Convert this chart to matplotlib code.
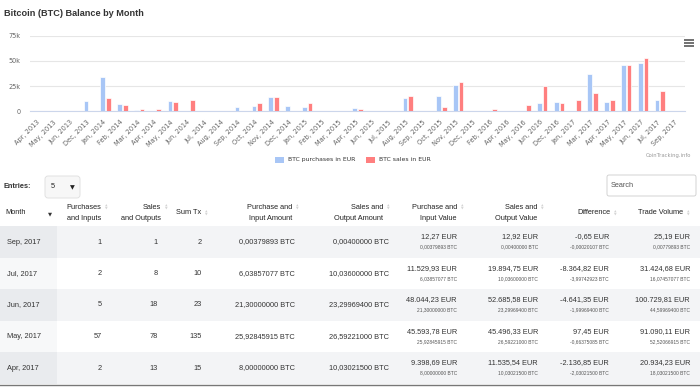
import numpy as np
import matplotlib.pyplot as plt
from matplotlib.patches import Rectangle, FancyBboxPatch

plt.rcParams['font.family'] = ['Liberation Sans', 'DejaVu Sans']

# ---------------------------- chart data (EUR) ----------------------------
months = ['Apr, 2013', 'May, 2013', 'Jun, 2013', 'Dec, 2013', 'Jan, 2014', 'Feb, 2014',
          'Mar, 2014', 'Apr, 2014', 'May, 2014', 'Jun, 2014', 'Jul, 2014', 'Aug, 2014',
          'Sep, 2014', 'Oct, 2014', 'Nov, 2014', 'Dec, 2014', 'Jan, 2015', 'Feb, 2015',
          'Mar, 2015', 'Apr, 2015', 'Jun, 2015', 'Jul, 2015', 'Aug, 2015', 'Sep, 2015',
          'Oct, 2015', 'Nov, 2015', 'Dec, 2015', 'Feb, 2016', 'Apr, 2016', 'May, 2016',
          'Jun, 2016', 'Dec, 2016', 'Jan, 2017', 'Mar, 2017', 'Apr, 2017', 'May, 2017',
          'Jun, 2017', 'Jul, 2017', 'Sep, 2017']
purchases_eur = [60, 40, 50, 10500, 34500, 6900, 900, 0, 10500, 0, 0, 0,
                 4600, 4900, 13900, 4900, 3900, 0, 0, 3200, 0, 0, 13200, 0,
                 14900, 26500, 600, 0, 0, 0, 8500, 9500, 0, 37400, 9398.69, 45593.78,
                 48044.23, 11529.93, 12.27]
sales_eur = [0, 0, 0, 0, 13200, 6200, 2600, 2600, 8900, 11200, 0, 0,
             0, 7900, 13900, 0, 7900, 0, 0, 1900, 0, 0, 14900, 0,
             3900, 29500, 0, 1900, 0, 5900, 25200, 7900, 11500, 17900, 11535.54, 45496.33,
             52685.58, 19894.75, 12.92]
yticks = [0, 25000, 50000, 75000]
ytick_labels = ['0', '25k', '50k', '75k']

# ---------------------------- table data ----------------------------
tbl_month = ['Sep, 2017', 'Jul, 2017', 'Jun, 2017', 'May, 2017', 'Apr, 2017']
tbl_n_buy = [1, 2, 5, 57, 2]
tbl_n_sell = [1, 8, 18, 78, 13]
tbl_n_tx = [2, 10, 23, 135, 15]
tbl_amt_buy = [0.00379893, 6.03857077, 21.30000000, 25.92845915, 8.00000000]
tbl_amt_sell = [0.00400000, 10.03600000, 23.29969400, 26.59221000, 10.03021500]
tbl_val_buy = [12.27, 11529.93, 48044.23, 45593.78, 9398.69]
tbl_val_sell = [12.92, 19894.75, 52685.58, 45496.33, 11535.54]
tbl_diff = [-0.65, -8364.82, -4641.35, 97.45, -2136.85]
tbl_diff_btc = [-0.00020107, -3.99742923, -1.99969400, -0.66375085, -2.03021500]
tbl_vol = [25.19, 31424.68, 100729.81, 91090.11, 20934.23]
tbl_vol_btc = [0.00779893, 16.07457077, 44.59969400, 52.52066915, 18.03021500]


def eur(v):
    s = f"{v:,.2f}"
    return s.replace(',', 'X').replace('.', ',').replace('X', '.') + ' EUR'


def btc(v):
    return f"{v:.8f}".replace('.', ',') + ' BTC'


W, H = 700, 387
BLUE = '#a8c6f6'
RED = '#ff7f7f'
fig = plt.figure(figsize=(W / 100, H / 100), dpi=100)

# pixel-space layer for page elements
lay = fig.add_axes([0, 0, 1, 1])
lay.set_xlim(0, W)
lay.set_ylim(H, 0)
lay.axis('off')

# ---------------------------- bar chart ----------------------------
y0, y1 = 111.3, 35.7
ax = fig.add_axes([30 / W, 1 - y0 / H, 655 / W, (y0 - y1) / H])
ax.patch.set_alpha(0)
x = np.arange(len(months))
ax.bar(x - 0.17, purchases_eur, width=0.28, color=BLUE, edgecolor='white', linewidth=0.5, zorder=3)
ax.bar(x + 0.17, sales_eur, width=0.28, color=RED, edgecolor='white', linewidth=0.5, zorder=3)
ax.set_xlim(-0.5, len(months) - 0.5)
ax.set_ylim(0, 75000)
ax.set_yticks(yticks)
ax.set_yticklabels(ytick_labels, fontsize=4.7, color='#666666', family='DejaVu Sans')
ax.set_xticks(x)
ax.set_xticklabels(months, rotation=45, ha='right', va='center', rotation_mode='anchor',
                   fontsize=4.8, color='#666666', family='DejaVu Sans')
ax.tick_params(axis='x', length=0, pad=7)
ax.tick_params(axis='y', length=0, pad=7)
ax.grid(axis='y', color='#e6e6e6', linewidth=0.8, zorder=0)
for s in ['top', 'right', 'left']:
    ax.spines[s].set_visible(False)
ax.spines['bottom'].set_color('#ccd6eb')
ax.spines['bottom'].set_linewidth(0.8)

# title, menu, legend, credits
lay.text(4, 13, 'Bitcoin (BTC) Balance by Month', fontsize=6.6, fontweight='bold',
         color='#333333', va='center', ha='left')
for yy in (40, 43, 46):
    lay.plot([684, 694], [yy, yy], color='#666666', lw=1.3, solid_capstyle='butt')
lay.add_patch(Rectangle((275, 156.5), 9, 6, color=BLUE, lw=0))
lay.text(288, 159.5, 'BTC purchases in EUR', fontsize=4.4, color='#333333', va='center',
         family='DejaVu Sans')
lay.add_patch(Rectangle((366, 156.5), 9, 6, color=RED, lw=0))
lay.text(379, 159.5, 'BTC sales in EUR', fontsize=4.4, color='#333333', va='center',
         family='DejaVu Sans')
lay.text(691, 156, 'CoinTracking.info', fontsize=3.8, color='#999999', va='center', ha='right',
         family='DejaVu Sans')

# ---------------------------- controls ----------------------------
lay.text(4, 187, 'Entries:', fontsize=5.3, fontweight='bold', color='#333333', va='center')
lay.add_patch(FancyBboxPatch((45, 176), 35, 22, boxstyle='round,pad=0,rounding_size=3',
                             fc='#f7f7f7', ec='#dddddd', lw=0.6))
lay.text(51, 187, '5', fontsize=5.3, color='#222222', va='center')
lay.text(72, 187.5, '▼', fontsize=4.5, color='#222222', va='center', ha='center',
         family='DejaVu Sans')
lay.add_patch(FancyBboxPatch((607, 175), 89, 21, boxstyle='round,pad=0,rounding_size=2',
                             fc='white', ec='#cccccc', lw=0.6))
lay.text(611, 185.5, 'Search', fontsize=5.3, color='#555555', va='center')

# ---------------------------- table ----------------------------
row_y = [242, 273.5, 305, 336.5, 368]
row_h = 31.5
for i, cy in enumerate(row_y):
    if i % 2 == 0:
        lay.add_patch(Rectangle((0, cy - row_h / 2), W, row_h, fc='#f3f4f6', lw=0))
        lay.add_patch(Rectangle((0, cy - row_h / 2), 57, row_h, fc='#e9ebee', lw=0))
    else:
        lay.add_patch(Rectangle((0, cy - row_h / 2), 57, row_h, fc='#f7f8f9', lw=0))
lay.plot([0, W], [385, 385], color='#777777', lw=1)

fs = 5.3
hdr_color = '#222222'
lay.text(5, 213, 'Month', fontsize=fs, color=hdr_color, va='center')
lay.text(50, 213.5, '▼', fontsize=3.8, color='#333333', va='center', ha='center',
         family='DejaVu Sans')

headers = [('Purchases', 'and Inputs'), ('Sales', 'and Outputs'), ('Sum Tx',),
           ('Purchase and', 'Input Amount'), ('Sales and', 'Output Amount'),
           ('Purchase and', 'Input Value'), ('Sales and', 'Output Value'),
           ('Difference',), ('Trade Volume',)]
hdr_right = [101, 161, 201, 292, 383, 457, 537, 610, 683]
val_right = [102, 158, 202, 295, 389, 457, 538, 609, 690]

for h, xr in zip(headers, hdr_right):
    if len(h) == 2:
        lay.text(xr, 207.5, h[0], fontsize=fs, color=hdr_color, va='center', ha='right')
        lay.text(xr, 219, h[1], fontsize=fs, color=hdr_color, va='center', ha='right')
        ay = 207.5
    else:
        lay.text(xr, 213, h[0], fontsize=fs, color=hdr_color, va='center', ha='right')
        ay = 213
    lay.text(xr + 5, ay - 1.6, '▲', fontsize=2.4, color='#d3d3d3', va='center', ha='center',
             family='DejaVu Sans')
    lay.text(xr + 5, ay + 1.6, '▼', fontsize=2.4, color='#d3d3d3', va='center', ha='center',
             family='DejaVu Sans')

txt = '#333333'
sub = '#555555'
for i, cy in enumerate(row_y):
    lay.text(7, cy, tbl_month[i], fontsize=fs, color=txt, va='center')
    lay.text(val_right[0], cy, str(tbl_n_buy[i]), fontsize=fs, color=txt, va='center', ha='right')
    lay.text(val_right[1], cy, str(tbl_n_sell[i]), fontsize=fs, color=txt, va='center', ha='right')
    lay.text(val_right[2], cy, str(tbl_n_tx[i]), fontsize=fs, color=txt, va='center', ha='right')
    lay.text(val_right[3], cy, btc(tbl_amt_buy[i]), fontsize=fs, color=txt, va='center', ha='right')
    lay.text(val_right[4], cy, btc(tbl_amt_sell[i]), fontsize=fs, color=txt, va='center', ha='right')
    pairs = [(tbl_val_buy[i], tbl_amt_buy[i]), (tbl_val_sell[i], tbl_amt_sell[i]),
             (tbl_diff[i], tbl_diff_btc[i]), (tbl_vol[i], tbl_vol_btc[i])]
    for (main, small), xr in zip(pairs, val_right[5:]):
        lay.text(xr, cy - 5, eur(main), fontsize=fs, color=txt, va='center', ha='right')
        lay.text(xr, cy + 5, btc(small), fontsize=3.5, color=sub, va='center', ha='right')

fig.savefig('out.png', dpi=100)
